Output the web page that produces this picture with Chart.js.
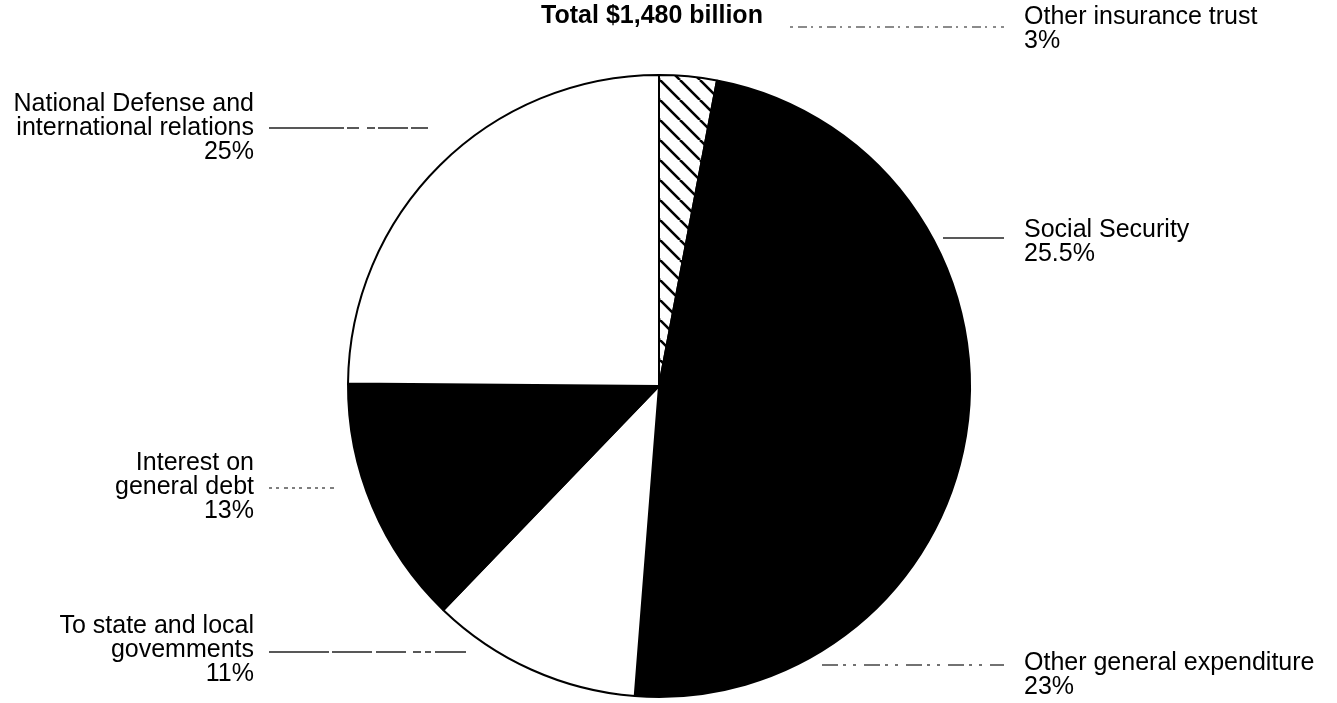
<!DOCTYPE html>
<html>
<head>
<meta charset="utf-8">
<title>Total $1,480 billion</title>
<script src="https://cdn.jsdelivr.net/npm/chart.js@4.4.1/dist/chart.umd.min.js"></script>
<style>
  html, body { margin: 0; padding: 0; background: #fff; }
  #wrap { width: 1337px; height: 703px; }
</style>
</head>
<body>
<div id="wrap"><canvas id="pie" width="1337" height="703"></canvas></div>
<script>
// gastos por função, em % do total (sentido horário a partir do topo)
const categorias = [
  'Other insurance trust',
  'Social Security',
  'Other general expenditure',
  'To state and local governments',
  'Interest on general debt',
  'National Defense and international relations'
];
const percentuais = [3, 25.5, 23, 11, 13, 25];
const titulo = 'Total $1,480 billion';

// texto dos rótulos (linhas quebradas como no impresso)
const rotulos = [
  ['Other insurance trust'],
  ['Social Security'],
  ['Other general expenditure'],
  ['To state and local', 'govemments'],
  ['Interest on', 'general debt'],
  ['National Defense and', 'international relations']
];

// posição dos rótulos: lado, y da primeira linha, linha-guia (y, alcance a partir do centro, traço)
const posRotulos = [
  { lado: 'd', y: 17,  guiaY: 27,  guiaAte: 131, traco: [3, 5, 9, 4, 2, 6], cor: '#666' },
  { lado: 'd', y: 230, guiaY: 238, guiaAte: 284, traco: [],                 cor: '#222' },
  { lado: 'd', y: 663, guiaY: 665, guiaAte: 163, traco: [16, 5, 3, 7, 3, 8], cor: '#444' },
  { lado: 'e', y: 626, guiaY: 652, guiaAte: 193, traco: [60, 3, 40, 4, 30, 7, 8, 4, 6, 4], cor: '#222' },
  { lado: 'e', y: 463, guiaY: 488, guiaAte: 323, traco: [3, 4, 3, 5, 4, 4],  cor: '#555' },
  { lado: 'e', y: 104, guiaY: 128, guiaAte: 231, traco: [75, 3, 12, 8, 8, 3, 30, 3], cor: '#222' }
];

const fonte = '"Liberation Sans", Arial, Helvetica, sans-serif';

function hachura() {
  const s = 20;
  const c = document.createElement('canvas');
  c.width = s; c.height = s;
  const g = c.getContext('2d');
  g.fillStyle = '#fff';
  g.fillRect(0, 0, s, s);
  g.strokeStyle = '#000';
  g.lineWidth = 2.6;
  [-s, 0, s].forEach(k => {
    g.beginPath();
    g.moveTo(k, 0);
    g.lineTo(k + s, s);
    g.stroke();
  });
  return g.createPattern(c, 'repeat');
}

const cores = [hachura(), '#000', '#000', '#fff', '#000', '#fff'];

const rotulosPlugin = {
  id: 'rotulos',
  afterDraw(chart) {
    const arco = chart.getDatasetMeta(0).data[0];
    const cx = arco.x;
    const r = arco.outerRadius;
    const ctx = chart.ctx;
    ctx.save();

    // título
    ctx.fillStyle = '#000';
    ctx.font = 'bold 25px ' + fonte;
    ctx.textAlign = 'center';
    ctx.textBaseline = 'middle';
    ctx.fillText(titulo, cx - 7, 16);

    ctx.font = '25px ' + fonte;
    const xDir = cx + r + 54;
    const xEsq = cx - r - 94;

    posRotulos.forEach((p, i) => {
      const linhas = rotulos[i].concat([percentuais[i] + '%']);
      const dir = p.lado === 'd';
      ctx.textAlign = dir ? 'left' : 'right';
      ctx.fillStyle = '#000';
      linhas.forEach((t, j) => ctx.fillText(t, dir ? xDir : xEsq, p.y + j * 24));

      // linha-guia
      ctx.strokeStyle = p.cor;
      ctx.lineWidth = 1.5;
      ctx.setLineDash(p.traco);
      ctx.beginPath();
      if (dir) {
        ctx.moveTo(cx + p.guiaAte, p.guiaY);
        ctx.lineTo(xDir - 20, p.guiaY);
      } else {
        ctx.moveTo(xEsq + 15, p.guiaY);
        ctx.lineTo(cx - p.guiaAte, p.guiaY);
      }
      ctx.stroke();
    });
    ctx.restore();
  }
};

new Chart(document.getElementById('pie'), {
  type: 'pie',
  data: {
    labels: categorias,
    datasets: [{
      data: percentuais,
      backgroundColor: cores,
      borderColor: '#000',
      borderWidth: 2
    }]
  },
  options: {
    responsive: false,
    animation: false,
    devicePixelRatio: 1,
    layout: { padding: { top: 74, bottom: 5, left: 347, right: 366 } },
    plugins: {
      legend: { display: false },
      tooltip: { enabled: false },
      title: { display: false }
    }
  },
  plugins: [rotulosPlugin]
});
</script>
</body>
</html>
